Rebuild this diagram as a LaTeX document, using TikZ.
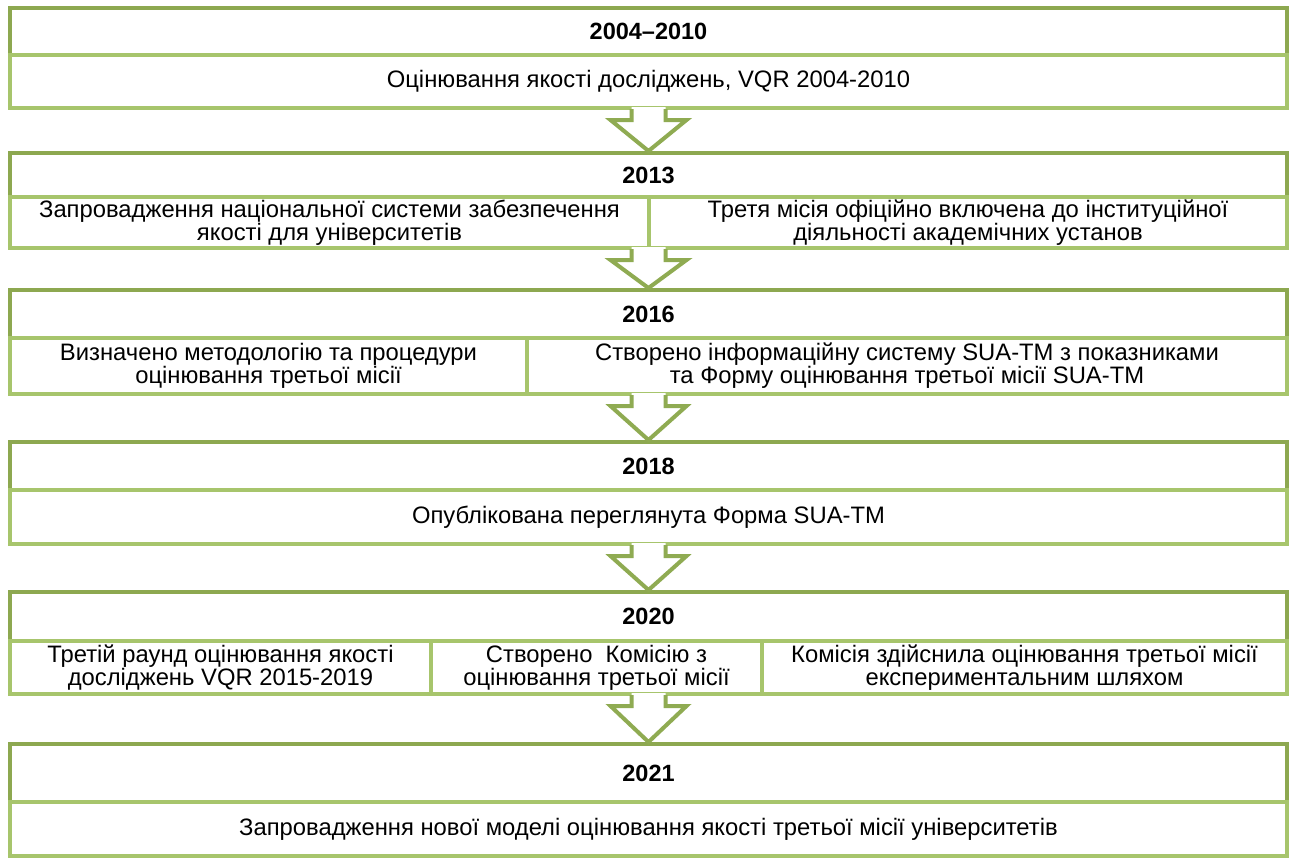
\documentclass[tikz,border=0pt]{standalone}
\usepackage{fontspec}
\setmainfont{Liberation Sans}
\usetikzlibrary{fit,calc}
\definecolor{hdrgreen}{RGB}{141,168,80}
\definecolor{cellgreen}{RGB}{167,197,108}
\definecolor{arrgreen}{RGB}{143,171,82}
\newcommand{\dnarrow}[2]{%
  \fill[white] ($(#1)+(-17,-3)$) -- ($(#1)+(-17,10)$) -- ($(#1)+(-38,10)$) -- (#2)
     -- ($(#1)+(38,10)$) -- ($(#1)+(17,10)$) -- ($(#1)+(17,-3)$) -- cycle;
  \draw[arr] ($(#1)+(-17,-1)$) -- ($(#1)+(-17,10)$) -- ($(#1)+(-38,10)$) -- (#2)
     -- ($(#1)+(38,10)$) -- ($(#1)+(17,10)$) -- ($(#1)+(17,-1)$);}
\begin{document}
\begin{tikzpicture}[x=1pt,y=-1pt,
  hdr/.style={draw=hdrgreen, line width=4pt, fill=white, inner sep=0pt},
  cell/.style={draw=cellgreen, line width=4pt, fill=white, inner sep=0pt},
  yeartxt/.style={inner sep=0pt, font=\fontsize{23.5}{26}\selectfont\bfseries},
  bodytxt/.style={inner sep=0pt, align=center, font=\fontsize{23.8}{23}\selectfont},
  arr/.style={draw=arrgreen, line width=4pt, line join=miter}]
\useasboundingbox (0,0) rectangle (1290,859);

% Block 1
\node[hdr, fit={(10,8)(1287,55)}] (h1) {};
\node[cell, fit={(10,55)(1287,108)}] (c1) {};
\node[yeartxt] (y1) at (h1.center) {2004–2010};
\node[bodytxt] (x1) at (c1.center) {Оцінювання якості досліджень, VQR 2004-2010};

% Block 2
\node[hdr, fit={(10,153)(1287,197)}] (h2) {};
\node[cell, fit={(10,197)(649,248)}] (c2a) {};
\node[cell, fit={(649,197)(1287,248)}] (c2b) {};
\node[yeartxt] (y2) at (h2.center) {2013};
\node[bodytxt] (x2a) at (c2a.center) {Запровадження національної системи забезпечення\\якості для університетів};
\node[bodytxt] (x2b) at (c2b.center) {Третя місія офіційно включена до інституційної\\діяльності академічних установ};

% Block 3
\node[hdr, fit={(10,290)(1287,338)}] (h3) {};
\node[cell, fit={(10,338)(527,394)}] (c3a) {};
\node[cell, fit={(527,338)(1287,394)}] (c3b) {};
\node[yeartxt] (y3) at (h3.center) {2016};
\node[bodytxt] (x3a) at (c3a.center) {Визначено методологію та процедури\\оцінювання третьої місії};
\node[bodytxt] (x3b) at (c3b.center) {Створено інформаційну систему SUA-TM з показниками\\та Форму оцінювання третьої місії SUA-TM};

% Block 4
\node[hdr, fit={(10,442)(1287,490)}] (h4) {};
\node[cell, fit={(10,490)(1287,544)}] (c4) {};
\node[yeartxt] (y4) at (h4.center) {2018};
\node[bodytxt] (x4) at (c4.center) {Опублікована переглянута Форма SUA-TM};

% Block 5
\node[hdr, fit={(10,592)(1287,641)}] (h5) {};
\node[cell, fit={(10,641)(431,694)}] (c5a) {};
\node[cell, fit={(431,641)(762,694)}] (c5b) {};
\node[cell, fit={(762,641)(1287,694)}] (c5c) {};
\node[yeartxt] (y5) at (h5.center) {2020};
\node[bodytxt] (x5a) at (c5a.center) {Третій раунд оцінювання якості\\досліджень VQR 2015-2019};
\node[bodytxt] (x5b) at (c5b.center) {Створено\ \ Комісію з\\оцінювання третьої місії};
\node[bodytxt] (x5c) at (c5c.center) {Комісія здійснила оцінювання третьої місії\\експериментальним шляхом};

% Block 6
\node[hdr, fit={(10,744)(1287,802)}] (h6) {};
\node[cell, fit={(10,802)(1287,856)}] (c6) {};
\node[yeartxt] (y6) at (h6.center) {2021};
\node[bodytxt] (x6) at (c6.center) {Запровадження нової моделі оцінювання якості третьої місії університетів};

% Arrows
\coordinate (t1) at (h1.center |- c1.south);
\coordinate (t2) at (h2.center |- c2a.south);
\coordinate (t3) at (h3.center |- c3a.south);
\coordinate (t4) at (h4.center |- c4.south);
\coordinate (t5) at (h5.center |- c5a.south);
\dnarrow{t1}{h2.north}
\dnarrow{t2}{h3.north}
\dnarrow{t3}{h4.north}
\dnarrow{t4}{h5.north}
\dnarrow{t5}{h6.north}
\end{tikzpicture}
\end{document}
